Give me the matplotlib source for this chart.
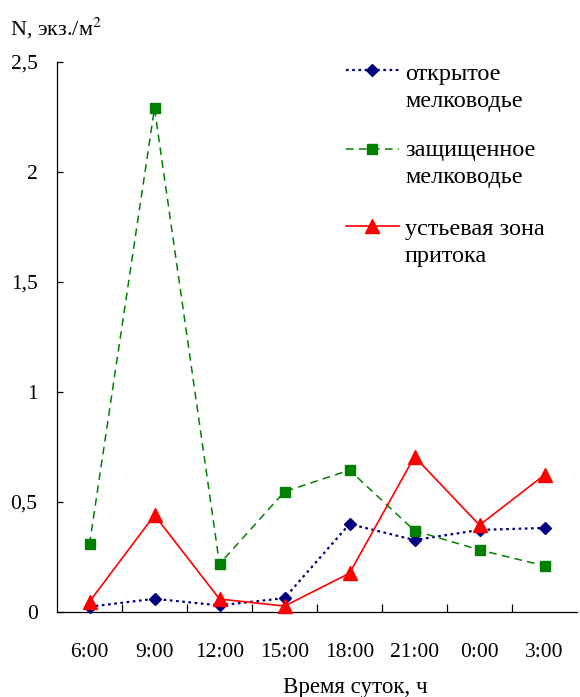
import numpy as np
import matplotlib
matplotlib.use('Agg')
import matplotlib.pyplot as plt
from matplotlib.lines import Line2D

plt.rcParams['font.family'] = ['Liberation Serif', 'DejaVu Serif']
plt.rcParams['mathtext.fontset'] = 'stix'

# Данные
categories = ['6:00', '9:00', '12:00', '15:00', '18:00', '21:00', '0:00', '3:00']
open_shallow = [0.024, 0.06, 0.03, 0.063, 0.40, 0.327, 0.373, 0.382]
protected_shallow = [0.308, 2.29, 0.218, 0.547, 0.645, 0.37, 0.282, 0.21]
tributary_mouth = [0.047, 0.44, 0.059, 0.027, 0.176, 0.706, 0.395, 0.623]
labels = ['открытое\nмелководье', 'защищенное\nмелководье', 'устьевая зона\nпритока']
yticks = [0, 0.5, 1, 1.5, 2, 2.5]
ytick_labels = ['0', '0,5', '1', '1,5', '2', '2,5']

W, H = 580, 697
fig = plt.figure(figsize=(W / 100, H / 100), dpi=100)
ax = fig.add_axes([57 / W, (H - 612) / H, 520 / W, 550 / H])

x = np.arange(len(categories))
styles = [
    dict(color='#000080', linestyle=(0, (1.2, 1.6)), marker='D', markersize=6.5, linewidth=1.6),
    dict(color='#008000', linestyle=(0, (5, 3.5)), marker='s', markersize=7.5, linewidth=1.1),
    dict(color='#FF0000', linestyle='-', marker='^', markersize=10, linewidth=1.2),
]
series = [open_shallow, protected_shallow, tributary_mouth]
for vals, st in zip(series, styles):
    ax.plot(x, vals, clip_on=False, zorder=3, **st)

ax.set_xlim(-0.5, len(categories) - 0.5)
ax.set_ylim(0, 2.5)
ax.set_yticks(yticks)
ax.set_yticklabels(ytick_labels)
ax.set_xticks(np.arange(len(categories) - 1) + 0.5)
ax.set_xticklabels([])
ax.set_xticks(x, minor=True)
ax.set_xticklabels(categories, minor=True)
ax.tick_params(axis='y', direction='in', length=4.5, width=0.9, pad=14, labelsize=15.5)
ax.tick_params(axis='x', which='major', direction='in', length=6, width=0.9)
ax.tick_params(axis='x', which='minor', length=0, pad=22, labelsize=15.5)
for s in ['top', 'right']:
    ax.spines[s].set_visible(False)
for s in ['left', 'bottom']:
    ax.spines[s].set_linewidth(0.9)

fig.text(10 / W, (H - 35) / H, 'N, экз./м$^{2}$', fontsize=16, ha='left', va='baseline')
fig.text(355 / W, (H - 687) / H, 'Время суток, ч', fontsize=16.5, ha='center', va='center')

# Легенда (образец линии на уровне первой строки подписи)
handle_y = [70, 149, 226]
text_base = [80, 156, 235]
for hy, tb, lab, st in zip(handle_y, text_base, labels, styles):
    yy = (H - hy) / H
    fig.add_artist(Line2D([346 / W, 399 / W], [yy, yy], transform=fig.transFigure,
                          color=st['color'], linestyle=st['linestyle'], linewidth=st['linewidth']))
    fig.add_artist(Line2D([372 / W], [yy], transform=fig.transFigure, color=st['color'],
                          marker=st['marker'], markersize=st['markersize'], linestyle='none'))
    for i, line in enumerate(lab.split('\n')):
        fig.text(405 / W, (H - tb - 27 * i) / H, line, fontsize=17.5, ha='left', va='baseline')

fig.savefig('out.png', dpi=100)
